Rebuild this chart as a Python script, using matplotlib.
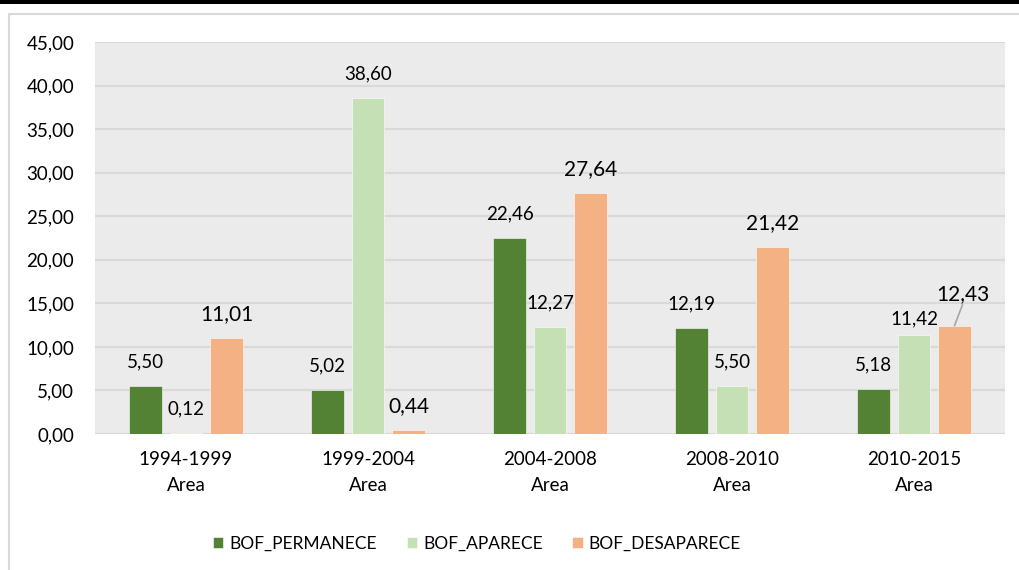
import numpy as np
import matplotlib.pyplot as plt
from matplotlib.patches import Rectangle
from matplotlib.lines import Line2D

plt.rcParams['font.family'] = ['Lato', 'DejaVu Sans']

periods = ["1994-1999", "1999-2004", "2004-2008", "2008-2010", "2010-2015"]
series_names = ["BOF_PERMANECE", "BOF_APARECE", "BOF_DESAPARECE"]
permanece = [5.50, 5.02, 22.46, 12.19, 5.18]
aparece = [0.12, 38.60, 12.27, 5.50, 11.42]
desaparece = [11.01, 0.44, 27.64, 21.42, 12.43]

colors = ["#548235", "#C5E0B4", "#F4B183"]
grid_color = "#D9D9D9"
bg_color = "#EBEBEB"


def fmt(v):
    return "{:.2f}".format(v).replace(".", ",")


fig = plt.figure(figsize=(10.19, 5.70), dpi=100)
fig.patch.set_facecolor("white")

# black strip at the top and the light frame around the chart
fig.add_artist(Rectangle((0, 1 - 3.5 / 570), 1, 3.5 / 570, transform=fig.transFigure,
                         facecolor="black", edgecolor="none"))
fig.add_artist(Line2D([8.5 / 1019, 8.5 / 1019, 1.0], [0, 1 - 13.5 / 570, 1 - 13.5 / 570],
                      transform=fig.transFigure, color=grid_color, lw=1.5))

ax = fig.add_axes([95 / 1019, 1 - 434 / 570, 910 / 1019, 392 / 570])
ax.set_facecolor(bg_color)

x = np.arange(len(periods))
width = 0.176
step = 0.2225
all_series = [permanece, aparece, desaparece]
bars = []
for i, vals in enumerate(all_series):
    b = ax.bar(x + (i - 1) * step, vals, width, color=colors[i], label=series_names[i],
               edgecolor="white", linewidth=0.4, zorder=3)
    bars.append(b)

ax.set_ylim(0, 45)
ax.set_xlim(-0.5, len(periods) - 0.5)
ax.set_yticks(np.arange(0, 46, 5))
ax.set_yticklabels([fmt(t) for t in np.arange(0, 46, 5)], fontsize=13.5)
ax.set_xticks(x)
ax.set_xticklabels([p + "\nArea" for p in periods], fontsize=13.5, linespacing=1.7)
ax.tick_params(axis="both", length=0, colors="black")
ax.tick_params(axis="y", pad=15)
ax.tick_params(axis="x", pad=12)
ax.grid(axis="y", color=grid_color, lw=1.6, zorder=0)
for s in ax.spines.values():
    s.set_visible(False)

# value labels; the orange series uses a slightly larger size
label_offsets = {(1, 4): (0, 16), (2, 4): (8, 32)}
for i, vals in enumerate(all_series):
    size = 15 if i == 2 else 13.5
    for j, v in enumerate(vals):
        dx, dy = label_offsets.get((i, j), (0, 24))
        xc = x[j] + (i - 1) * step
        ax.annotate(fmt(v), (xc, v), xytext=(dx, dy), textcoords="offset pixels",
                    ha="center", va="center", fontsize=size, zorder=5)
# leader line for the shifted label
xc = x[4] + step
ax.annotate("", (xc, desaparece[4]), xytext=(8, 21), textcoords="offset pixels",
            arrowprops=dict(arrowstyle="-", color="#A6A6A6", lw=1.2, shrinkA=0, shrinkB=0))

leg = fig.legend(handles=bars, labels=series_names, loc="center", bbox_to_anchor=(477 / 1019, 1 - 544 / 570),
                 ncol=3, frameon=False, fontsize=12.5, handlelength=0.6, handleheight=0.6,
                 handletextpad=0.35, columnspacing=1.7)

fig.savefig("out.png", dpi=100)
